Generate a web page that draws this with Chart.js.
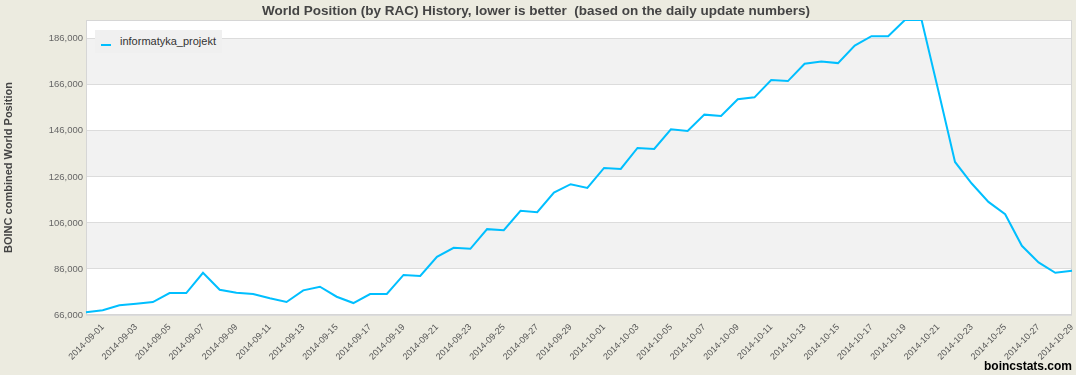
<!DOCTYPE html>
<html>
<head>
<meta charset="utf-8">
<script src="https://cdn.jsdelivr.net/npm/chart.js@4.4.1/dist/chart.umd.min.js"></script>
<style>
  html, body { margin: 0; padding: 0; background: #ecebe0; }
  #wrap { position: relative; width: 1076px; height: 375px; overflow: hidden; }
  canvas { display: block; }
  #legend { position: absolute; left: 95px; top: 30px; width: 127px; height: 23px; background: #f0f0f0;
            font: 11px "Liberation Sans", Arial, sans-serif; color: #333; }
  #legend .mk { position: absolute; left: 6px; top: 14px; width: 10px; height: 2px; background: #00bfff; }
  #legend .tx { position: absolute; left: 25px; top: 5px; white-space: nowrap; }
  #credit { position: absolute; right: 4px; bottom: 2px; font: bold 12px "Liberation Sans", Arial, sans-serif; color: #000; }
</style>
</head>
<body>
<div id="wrap">
  <canvas id="c" width="1076" height="375"></canvas>
  <div id="legend"><div class="mk"></div><div class="tx">informatyka_projekt</div></div>
  <div id="credit">boincstats.com</div>
</div>
<script>
const chartTitle = "World Position (by RAC) History, lower is better  (based on the daily update numbers)";
const yAxisTitle = "BOINC combined World Position";
const seriesName = "informatyka_projekt";

const dates = [
  "2014-08-31","2014-09-01","2014-09-02","2014-09-03","2014-09-04","2014-09-05","2014-09-06","2014-09-07",
  "2014-09-08","2014-09-09","2014-09-10","2014-09-11","2014-09-12","2014-09-13","2014-09-14","2014-09-15",
  "2014-09-16","2014-09-17","2014-09-18","2014-09-19","2014-09-20","2014-09-21","2014-09-22","2014-09-23",
  "2014-09-24","2014-09-25","2014-09-26","2014-09-27","2014-09-28","2014-09-29","2014-09-30","2014-10-01",
  "2014-10-02","2014-10-03","2014-10-04","2014-10-05","2014-10-06","2014-10-07","2014-10-08","2014-10-09",
  "2014-10-10","2014-10-11","2014-10-12","2014-10-13","2014-10-14","2014-10-15","2014-10-16","2014-10-17",
  "2014-10-18","2014-10-19","2014-10-20","2014-10-21","2014-10-22","2014-10-23","2014-10-24","2014-10-25",
  "2014-10-26","2014-10-27","2014-10-28","2014-10-29"
];

const positions = [
  67170, 68040, 70210, 70900, 71640, 75540, 75540, 84350,
  76970, 75670, 75110, 73240, 71640, 76710, 78280, 73940,
  71200, 75110, 75110, 83400, 82950, 91290, 95190, 94760,
  103300, 102860, 111240, 110670, 119210, 122810, 121210, 129880,
  129450, 138560, 138120, 146670, 145930, 153040, 152440, 159750,
  160550, 168050, 167620, 175160, 176160, 175420, 183060, 187100,
  187100, 194150, 194150, 163500, 132490, 123110, 115140, 109800,
  96060, 88860, 84350, 85220
];

const yTickValues = [66000, 86000, 106000, 126000, 146000, 166000, 186000];
const yMin = 66000;
const yMax = 194150;

const bandsPlugin = {
  id: 'bands',
  beforeDraw(chart) {
    const { ctx, chartArea: a, scales: { y } } = chart;
    ctx.save();
    ctx.fillStyle = '#ecebe0';
    ctx.fillRect(0, 0, chart.width, chart.height);
    ctx.fillStyle = '#ffffff';
    ctx.fillRect(a.left, a.top, a.right - a.left, a.bottom - a.top);
    ctx.fillStyle = '#f2f2f2';
    for (let i = 1; i + 1 < yTickValues.length; i += 2) {
      const y1 = y.getPixelForValue(yTickValues[i]);
      const y2 = y.getPixelForValue(yTickValues[i + 1]);
      ctx.fillRect(a.left, y2, a.right - a.left, y1 - y2);
    }
    ctx.restore();
  },
  beforeDatasetsDraw(chart) {
    const { ctx, chartArea: a } = chart;
    ctx.save();
    ctx.strokeStyle = '#d6d6d6';
    ctx.lineWidth = 1;
    ctx.strokeRect(Math.round(a.left) + 0.5, Math.round(a.top) + 0.5,
                   Math.round(a.right - a.left) - 1, Math.round(a.bottom - a.top) - 1);
    ctx.restore();
  }
};

new Chart(document.getElementById('c'), {
  type: 'line',
  data: {
    labels: dates,
    datasets: [{
      label: seriesName,
      data: positions,
      borderColor: '#00bfff',
      backgroundColor: '#00bfff',
      borderWidth: 2,
      pointRadius: 0,
      tension: 0,
      fill: false
    }]
  },
  options: {
    responsive: false,
    animation: false,
    layout: { padding: { left: 0, right: 4, top: 0, bottom: 0 } },
    plugins: {
      legend: { display: false },
      tooltip: { enabled: false },
      title: {
        display: true,
        text: chartTitle,
        color: '#444',
        font: { family: '"Liberation Sans", Arial, sans-serif', size: 13.5, weight: 'bold', lineHeight: 1.2 },
        padding: { top: 3.4, bottom: 0.4 }
      }
    },
    scales: {
      x: {
        type: 'category',
        offset: false,
        grid: { display: false, drawTicks: false },
        border: { display: false },
        ticks: {
          autoSkip: false,
          maxRotation: 45,
          minRotation: 45,
          padding: 7,
          color: '#555',
          font: { family: '"Liberation Sans", Arial, sans-serif', size: 9 },
          callback: function (v, i) { return i % 2 === 1 ? dates[i] : ''; }
        },
        afterFit(s) { s.height = 60; s.paddingRight = 0; s.paddingLeft = 0; }
      },
      y: {
        min: yMin,
        max: yMax,
        grid: { color: '#dcdcdc', drawTicks: false, lineWidth: 1 },
        border: { display: false },
        ticks: {
          stepSize: 20000,
          padding: 3,
          color: '#666',
          font: { family: '"Liberation Sans", Arial, sans-serif', size: 9.5 },
          callback: function (v) { return Number(v).toLocaleString('en-US'); }
        },
        title: {
          display: true,
          text: yAxisTitle,
          color: '#444',
          font: { family: '"Liberation Sans", Arial, sans-serif', size: 11, weight: 'bold' },
          padding: { top: 2, bottom: 0 }
        },
        afterBuildTicks(s) { s.ticks = yTickValues.map(v => ({ value: v })); },
        afterFit(s) { s.width = 86; s.paddingTop = 0; s.paddingBottom = 0; }
      }
    }
  },
  plugins: [bandsPlugin]
});
</script>
</body>
</html>
